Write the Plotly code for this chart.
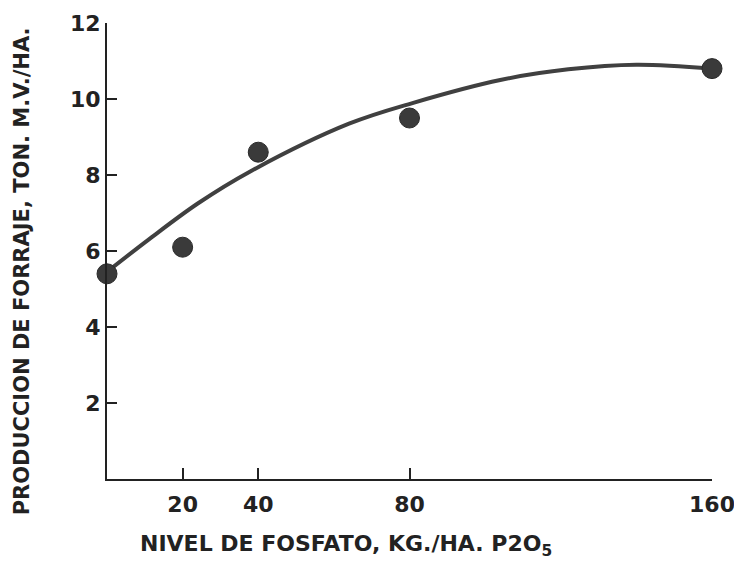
import plotly.graph_objects as go

# Phosphate level (kg/ha P2O5) and forage yield (t fresh matter / ha)
fosfato = [0, 20, 40, 80, 160]
produccion = [5.4, 6.1, 8.6, 9.5, 10.8]

# Response curve, hand-read along its path
curva_x = [0, 11, 24, 38, 64, 81, 104, 122, 140, 160]
curva_y = [5.45, 6.3, 7.25, 8.1, 9.35, 9.9, 10.5, 10.78, 10.9, 10.8]

x_ticks = [20, 40, 80, 160]
y_ticks = [2, 4, 6, 8, 10, 12]

titulo_x = "NIVEL DE FOSFATO, KG./HA. P2O<sub>5</sub>"
titulo_y = "PRODUCCION DE FORRAJE, TON. M.V./HA."

INK = "#222222"
FONT = "DejaVu Sans"

fig = go.Figure()

fig.add_trace(go.Scatter(
    x=curva_x, y=curva_y, mode="lines",
    line=dict(color="#404040", width=4, shape="spline", smoothing=1.0),
    hoverinfo="skip", cliponaxis=False,
))

fig.add_trace(go.Scatter(
    x=fosfato, y=produccion, mode="markers",
    marker=dict(size=20, color="#3a3a3a", line=dict(color="#2a2a2a", width=1)),
    cliponaxis=False,
))

fig.update_layout(
    width=734, height=568,
    margin=dict(l=107, r=22, t=23, b=89),
    paper_bgcolor="white", plot_bgcolor="white",
    showlegend=False,
    font=dict(family=FONT, color=INK),
    xaxis=dict(
        range=[0, 160], tickvals=x_ticks, ticktext=[str(v) for v in x_ticks],
        ticks="inside", ticklen=11, tickwidth=2, tickcolor=INK,
        showline=True, linecolor=INK, linewidth=2,
        showgrid=False, zeroline=False, ticklabelstandoff=5,
        automargin=False, ticklabeloverflow="allow",
        tickfont=dict(family=FONT, size=22, color=INK, weight="bold"),
    ),
    yaxis=dict(
        range=[0, 12], tickvals=y_ticks, ticktext=[str(v) for v in y_ticks],
        ticks="inside", ticklen=10, tickwidth=2, tickcolor=INK,
        showline=True, linecolor=INK, linewidth=2,
        showgrid=False, zeroline=False, ticklabelstandoff=0,
        automargin=False,
        tickfont=dict(family=FONT, size=22, color=INK, weight="bold"),
    ),
    annotations=[
        dict(text=titulo_x, xref="paper", yref="paper", x=0.051, y=-0.145,
             xanchor="left", yanchor="middle", showarrow=False,
             font=dict(family=FONT, size=22, color=INK, weight="bold")),
        dict(text=titulo_y, xref="paper", yref="paper", x=-0.14, y=0.456,
             xanchor="center", yanchor="middle", showarrow=False, textangle=-90,
             font=dict(family=FONT, size=21, color=INK, weight="bold")),
    ],
)

fig.write_html("out.html")
